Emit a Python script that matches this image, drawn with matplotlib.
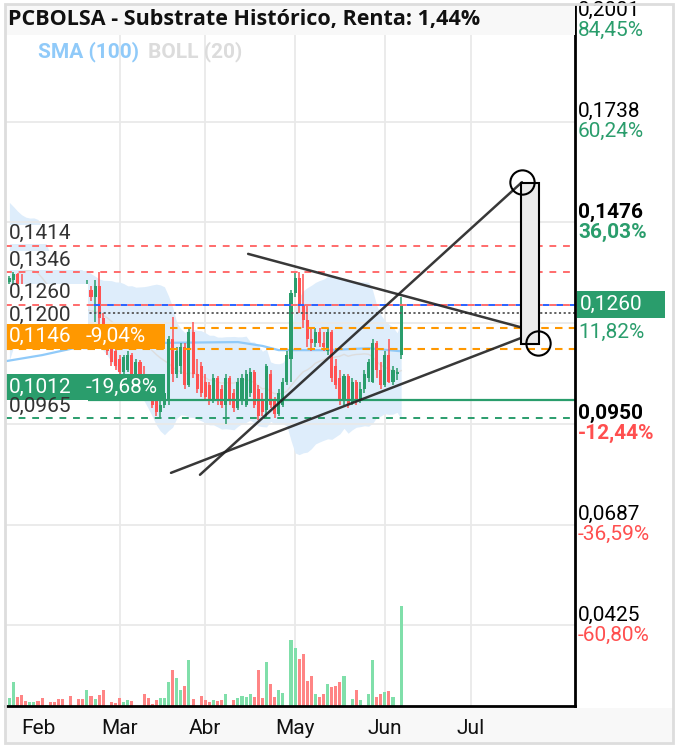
import matplotlib
matplotlib.use("Agg")
import matplotlib.pyplot as plt
from matplotlib.patches import Rectangle
import numpy as np
import pandas as pd

plt.rcParams['font.family'] = ['Roboto', 'DejaVu Sans']

# ---------------- data ----------------
title = 'PCBOLSA - Substrate Histórico, Renta: 1,44%'
start_date = '2025-01-23'
calendar_end = '2025-08-29'
month_labels = ['Feb', 'Mar', 'Abr', 'May', 'Jun', 'Jul']
month_starts = ['2025-02-01', '2025-03-01', '2025-04-01', '2025-05-01', '2025-06-01', '2025-07-01']
grid_month_starts = ['2025-03-01', '2025-04-01', '2025-05-01', '2025-06-01', '2025-07-01']

opens = [0.1320, 0.1325, 0.1340, 0.1300, 0.1290, 0.1275, 0.1285, 0.1290, 0.1265, 0.1245,
         0.1250, 0.1230, 0.1220, 0.1205, 0.1195, 0.1195, 0.1185, 0.1185, 0.1180, 0.1215,
         0.1300, 0.1280, 0.1310, 0.1225, 0.1160, 0.1150, 0.1140, 0.1120, 0.1085, 0.1090,
         0.1130, 0.1070, 0.1110, 0.1080, 0.1060, 0.1030, 0.1010, 0.0980, 0.1000, 0.1015,
         0.1170, 0.1080, 0.1100, 0.1150, 0.1050, 0.1190, 0.1080, 0.1100, 0.1060, 0.1050,
         0.1010, 0.1070, 0.1040, 0.1000, 0.1070, 0.1030, 0.0990, 0.1010, 0.1000, 0.1030,
         0.1085, 0.1040, 0.1010, 0.0985, 0.1080, 0.1010, 0.0975, 0.1000, 0.1060, 0.1120,
         0.1290, 0.1330, 0.1260, 0.1220, 0.1170, 0.1160, 0.1190, 0.1160, 0.1140, 0.1190,
         0.1100, 0.1070, 0.1010, 0.1075, 0.1005, 0.1060, 0.1010, 0.1040, 0.1070, 0.1060,
         0.1160, 0.1090, 0.1050, 0.1130, 0.1060, 0.1080, 0.1130]
highs = [0.1335, 0.1345, 0.1343, 0.1340, 0.1295, 0.1290, 0.1295, 0.1292, 0.1270, 0.1255,
         0.1252, 0.1235, 0.1225, 0.1210, 0.1198, 0.1200, 0.1188, 0.1200, 0.1190, 0.1325,
         0.1310, 0.1325, 0.1346, 0.1240, 0.1175, 0.1165, 0.1150, 0.1130, 0.1130, 0.1140,
         0.1135, 0.1120, 0.1115, 0.1100, 0.1080, 0.1050, 0.1020, 0.1010, 0.1040, 0.1180,
         0.1228, 0.1150, 0.1160, 0.1160, 0.1200, 0.1215, 0.1120, 0.1110, 0.1080, 0.1060,
         0.1080, 0.1075, 0.1050, 0.1080, 0.1075, 0.1040, 0.1070, 0.1080, 0.1090, 0.1095,
         0.1090, 0.1050, 0.1030, 0.1105, 0.1090, 0.1020, 0.1040, 0.1070, 0.1140, 0.1300,
         0.1346, 0.1346, 0.1340, 0.1260, 0.1200, 0.1200, 0.1200, 0.1190, 0.1200, 0.1195,
         0.1120, 0.1090, 0.1080, 0.1080, 0.1070, 0.1065, 0.1060, 0.1090, 0.1120, 0.1170,
         0.1165, 0.1110, 0.1140, 0.1170, 0.1100, 0.1095, 0.1280]
lows = [0.1300, 0.1310, 0.1290, 0.1280, 0.1270, 0.1265, 0.1275, 0.1260, 0.1240, 0.1240,
        0.1225, 0.1215, 0.1200, 0.1190, 0.1192, 0.1180, 0.1182, 0.1175, 0.1170, 0.1200,
        0.1270, 0.1215, 0.1195, 0.1150, 0.1130, 0.1100, 0.1090, 0.1075, 0.1080, 0.1085,
        0.1060, 0.1065, 0.1050, 0.1040, 0.1010, 0.0990, 0.0970, 0.0965, 0.0990, 0.1000,
        0.1060, 0.1070, 0.1080, 0.1040, 0.1045, 0.1070, 0.1030, 0.1020, 0.1010, 0.1000,
        0.1005, 0.1000, 0.0990, 0.0950, 0.1000, 0.0980, 0.0985, 0.1000, 0.0995, 0.1020,
        0.0990, 0.0960, 0.0970, 0.0965, 0.0990, 0.0965, 0.0970, 0.0995, 0.1050, 0.1060,
        0.1280, 0.1240, 0.1200, 0.1150, 0.1140, 0.1150, 0.1150, 0.1140, 0.1130, 0.1060,
        0.1040, 0.1000, 0.1000, 0.0990, 0.1000, 0.1000, 0.1005, 0.1030, 0.1060, 0.1055,
        0.1070, 0.1040, 0.1045, 0.1055, 0.1050, 0.1065, 0.1120]
closes = [0.1330, 0.1340, 0.1300, 0.1290, 0.1275, 0.1285, 0.1290, 0.1265, 0.1245, 0.1250,
          0.1230, 0.1220, 0.1205, 0.1195, 0.1195, 0.1185, 0.1185, 0.1180, 0.1175, 0.1300,
          0.1280, 0.1310, 0.1225, 0.1160, 0.1140, 0.1110, 0.1100, 0.1085, 0.1125, 0.1130,
          0.1070, 0.1110, 0.1060, 0.1050, 0.1020, 0.1000, 0.0980, 0.1000, 0.1030, 0.1170,
          0.1080, 0.1140, 0.1150, 0.1050, 0.1190, 0.1080, 0.1040, 0.1030, 0.1020, 0.1010,
          0.1070, 0.1010, 0.1000, 0.1070, 0.1010, 0.0990, 0.1060, 0.1070, 0.1080, 0.1085,
          0.1000, 0.0970, 0.0980, 0.1100, 0.1000, 0.0975, 0.1030, 0.1060, 0.1130, 0.1290,
          0.1330, 0.1260, 0.1220, 0.1170, 0.1160, 0.1190, 0.1160, 0.1150, 0.1190, 0.1070,
          0.1050, 0.1010, 0.1075, 0.1000, 0.1060, 0.1010, 0.1040, 0.1080, 0.1110, 0.1160,
          0.1090, 0.1050, 0.1130, 0.1060, 0.1090, 0.1085, 0.1260]
volumes = [8, 24, 9, 11, 5, 4, 4, 5, 8, 1,
           4, 4, 7, 7, 0, 10, 0, 7, 7, 16,
           10, 7, 11, 16, 0, 4, 3, 8, 4, 6,
           5, 0, 0, 12, 8, 2, 6, 8, 8, 24,
           36, 28, 16, 20, 46, 7, 0, 10, 6, 4,
           6, 5, 6, 12, 0, 6, 8, 10, 9, 12,
           9, 36, 8, 44, 22, 9, 16, 13, 0, 66,
           58, 47, 52, 25, 30, 12, 9, 12, 22, 19,
           20, 24, 30, 0, 7, 16, 6, 0, 12, 46,
           9, 12, 14, 15, 9, 0, 100]
# closes before the visible window (only feed the Bollinger bands)
pre_closes = [0.1120, 0.1150, 0.1180, 0.1210, 0.1250, 0.1320, 0.1400, 0.1480, 0.1520, 0.1460,
              0.1400, 0.1380, 0.1350, 0.1300, 0.1280, 0.1320, 0.1350, 0.1330, 0.1300]
# SMA(100) (trading-day index, price)
sma100_idx = [-1, 8, 17, 38, 56, 62, 66, 78, 88, 96]
sma100_val = [0.1113, 0.1129, 0.1150, 0.1161, 0.1163, 0.1153, 0.1142, 0.1142, 0.1147, 0.1139]

right_ticks = [0.2001, 0.1738, 0.1476, 0.1214, 0.0950, 0.0687, 0.0425]
right_pcts = ['84,45%', '60,24%', '36,03%', '11,82%', '-12,44%', '-36,59%', '-60,80%']
right_bold = [False, False, True, False, True, False, False]

red_levels = [0.1414, 0.1346, 0.1260]
blue_level = 0.1260
dotted_level = 0.1240
orange_levels = [0.1200, 0.1146]
support_level = 0.1012
support_dashed_level = 0.0965
left_label_prices = [0.1414, 0.1346, 0.1260, 0.1200, 0.0965]
left_label_texts = ['0,1414', '0,1346', '0,1260', '0,1200', '0,0965']
orange_tag = ('0,1146', '-9,04%', 0.1146)
green_tag = ('0,1012', '-19,68%', 0.1012)
current_price = 0.1260
current_text = '0,1260'

trend_steep = ([46.7, 125.6], [0.0817, 0.1580])
trend_shallow = ([39.6, 129.1], [0.0822, 0.1189])
trend_down = ([58.5, 125.9], [0.1393, 0.1200])
measure_x = [125.3, 129.8]
measure_y = [0.1158, 0.1578]
circle_x = [125.6, 129.6]
circle_y = [0.1580, 0.1161]

# ---------------- layout ----------------
W, H, DPI = 678, 748, 100
AX_L, AX_R, AX_T, AX_B = 5, 575, 5, 706
Y0, Y1 = 0.0214, 0.2042
X0, X1 = -1.08, 138.6
FS = 15

UP, DOWN = '#2a9d6c', '#ff5252'
UP_V, DOWN_V = '#80dfaa', '#ff8585'
GREEN_TXT, RED_TXT = '#2a9d6c', '#ff4f4f'

fig = plt.figure(figsize=(W / DPI, H / DPI), dpi=DPI)
fig.patch.set_facecolor('white')


def fx(px):
    return px / W


def fy(pyy):
    return 1 - pyy / H


ax = fig.add_axes([fx(AX_L), fy(AX_B), fx(AX_R) - fx(AX_L), fy(AX_T) - fy(AX_B)])
ax.set_xlim(X0, X1)
ax.set_ylim(Y0, Y1)
for s in ax.spines.values():
    s.set_visible(False)


def py(p):
    return AX_B - (p - Y0) / (Y1 - Y0) * (AX_B - AX_T)


def axx(px):
    return (px - AX_L) / (AX_R - AX_L)


def axy(pyy):
    return (AX_B - pyy) / (AX_B - AX_T)


def ax_rect(px0, py0, px1, py1, z, **kw):
    r = Rectangle((axx(px0), axy(py1)), axx(px1) - axx(px0), axy(py0) - axy(py1),
                  transform=ax.transAxes, zorder=z, clip_on=False, **kw)
    ax.add_patch(r)


# dates / month positions
all_days = pd.bdate_range(start_date, calendar_end)
n = len(closes)
x = np.arange(n)
month_idx = [int(all_days.searchsorted(pd.Timestamp(m))) for m in month_starts]
grid_idx = [int(all_days.searchsorted(pd.Timestamp(m))) for m in grid_month_starts]

# grid
ax.set_yticks(right_ticks)
ax.tick_params(axis='y', length=0, labelleft=False, labelright=False)
ax.grid(axis='y', color='#e9e9e9', lw=1.3, zorder=0)
for g in grid_idx:
    ax.axvline(g, color='#e9e9e9', lw=1.3, zorder=0)
ax.set_xticks(month_idx)
ax.set_xticklabels(month_labels, fontsize=FS, color='#111111')
ax.tick_params(axis='x', length=0, pad=9)

# Bollinger (20) and SMA(100)
all_close = pd.Series(pre_closes + closes)
xb = np.arange(-len(pre_closes), n)
mid = all_close.rolling(20).mean()
sd = all_close.rolling(20).std(ddof=0)
upper, lower = mid + 2 * sd, mid - 2 * sd
sel = xb >= -1
ax.fill_between(xb[sel], lower[sel], upper[sel], color='#deedfb', lw=0, zorder=1)
ax.plot(xb[sel], mid[sel], color='#dddddd', lw=1.0, zorder=1.5)
ax.plot(sma100_idx, sma100_val, color='#90caf9', lw=1.6, zorder=1.6)

# candles
o, h, l, c = map(np.array, (opens, highs, lows, closes))
up = c >= o
cols = np.where(up, UP, DOWN)
ax.vlines(x, l, h, colors=cols, lw=1.1, zorder=3)
body = np.maximum(np.abs(c - o), 0.0003)
ax.bar(x, body, bottom=np.minimum(o, c), width=0.75, color=cols, lw=0, zorder=3)

# level lines under the left label boxes
ax.axhline(blue_level, color='#2962ff', lw=1.4, linestyle=(3.5, (3.5, 3.5)), zorder=3.5)
ax.axhline(dotted_level, color='#555555', lw=1.3, linestyle=(0, (1.2, 1.4)), zorder=3.5)
for lv in orange_levels:
    ax.axhline(lv, color='#ff9800', lw=1.5, linestyle=(0, (3.6, 3.0)), zorder=3.5)
ax.axhline(support_level, color='#2a9d6c', lw=1.6, zorder=3.5)

# left label white backgrounds
for p, t in zip(left_label_prices, left_label_texts):
    ax_rect(AX_L, py(p) - 21, 88, py(p) - 2, 4, facecolor='white', lw=0)
ax_rect(AX_L, py(0.1260) - 2, 88, py(0.1260) + 2, 4, facecolor='white', lw=0)

# dashed levels above the white backgrounds
for lv in red_levels:
    ax.axhline(lv, color='#ff6b6b', lw=1.4, linestyle=(0, (3.5, 3.5)), zorder=5)
ax.axhline(support_dashed_level, color='#2a9d6c', lw=1.4, linestyle=(0, (3.5, 3.5)), zorder=5)

for p, t in zip(left_label_prices, left_label_texts):
    ax.text(axx(9), axy(py(p) - 12), t, transform=ax.transAxes, fontsize=FS,
            color='#333333', va='center', ha='left', zorder=10)

# coloured tags
for (t1, t2, p), col, hgt in ((orange_tag, '#ff9800', 25), (green_tag, '#2a9d6c', 26)):
    ax_rect(AX_L, py(p) - hgt, 165, py(p), 6, facecolor=col, lw=0)
    ax.text(axx(9), axy(py(p) - hgt / 2), t1, transform=ax.transAxes, fontsize=FS,
            color='white', va='center', ha='left', zorder=10)
    ax.text(axx(86), axy(py(p) - hgt / 2), t2, transform=ax.transAxes, fontsize=FS,
            color='white', va='center', ha='left', zorder=10)

# trend lines and measure box
for xs, ys in (trend_steep, trend_shallow, trend_down):
    ax.plot(xs, ys, color='#222222', lw=1.8, alpha=0.9, zorder=7, solid_capstyle='round')
ax.add_patch(Rectangle((measure_x[0], measure_y[0]), measure_x[1] - measure_x[0],
                       measure_y[1] - measure_y[0], facecolor='#ececec', edgecolor='black',
                       lw=1.5, zorder=8))
ax.plot(circle_x, circle_y, linestyle='none', marker='o', markersize=17.5,
        markerfacecolor='none', markeredgecolor='black', markeredgewidth=1.5, zorder=9)

# volume
ax2 = ax.twinx()
ax2.set_ylim(0, max(volumes) * (AX_B - AX_T) / 100)
ax2.patch.set_visible(False)
vcols = np.where(up, UP_V, DOWN_V)
ax2.bar(x, volumes, width=0.75, color=vcols, lw=0, zorder=2)
ax2.set_yticks([])
for k, s in ax2.spines.items():
    s.set_visible(k in ('right', 'bottom'))
    s.set_color('black')
    s.set_linewidth(2)

# right labels (the price text of the tick hidden by the current-price box is not drawn)
for p, pct, b in zip(right_ticks, right_pcts, right_bold):
    w = 'bold' if b else 'normal'
    if abs(py(p) - py(current_price)) > 22:
        fig.text(fx(578), fy(py(p) - 10), f'{p:.4f}'.replace('.', ','), fontsize=FS,
                 color='black', fontweight=w, va='center', ha='left')
    fig.text(fx(578), fy(py(p) + 10), pct, fontsize=FS,
             color=GREEN_TXT if not pct.startswith('-') else RED_TXT,
             fontweight=w, va='center', ha='left')

cy = py(current_price)
fig.add_artist(Rectangle((fx(577), fy(cy + 13.5)), fx(665) - fx(577), fy(cy - 13.5) - fy(cy + 13.5),
                         transform=fig.transFigure, facecolor='#2a9d6c', lw=0, zorder=10))
fig.text(fx(580), fy(cy), current_text, fontsize=FS, color='white', va='center',
         ha='left', zorder=11)

# title band, legend, bottom band, frame
fig.add_artist(Rectangle((fx(5), fy(35)), fx(575) - fx(5), fy(5) - fy(35),
                         transform=fig.transFigure, facecolor='#f8f8f8', lw=0, zorder=10))
fig.text(fx(8), fy(19), title, fontsize=15.5, fontweight='bold', color='#111111',
         family=['Open Sans', 'DejaVu Sans'], va='center', ha='left', zorder=11)
fig.text(fx(38), fy(52), 'SMA (100)', fontsize=FS, fontweight='bold', color='#90caf9',
         va='center', ha='left', zorder=11)
fig.text(fx(148), fy(52), 'BOLL (20)', fontsize=FS, fontweight='bold', color='#dcdcdc',
         va='center', ha='left', zorder=11)
fig.add_artist(Rectangle((fx(5), fy(742)), fx(673) - fx(5), fy(708) - fy(742),
                         transform=fig.transFigure, facecolor='#f8f8f8', lw=0, zorder=-1))
fig.add_artist(Rectangle((fx(5), fy(743)), fx(673) - fx(5), fy(4) - fy(743),
                         transform=fig.transFigure, facecolor='none', edgecolor='#dddddd',
                         lw=2, zorder=12))

fig.savefig('out.png', dpi=DPI)
